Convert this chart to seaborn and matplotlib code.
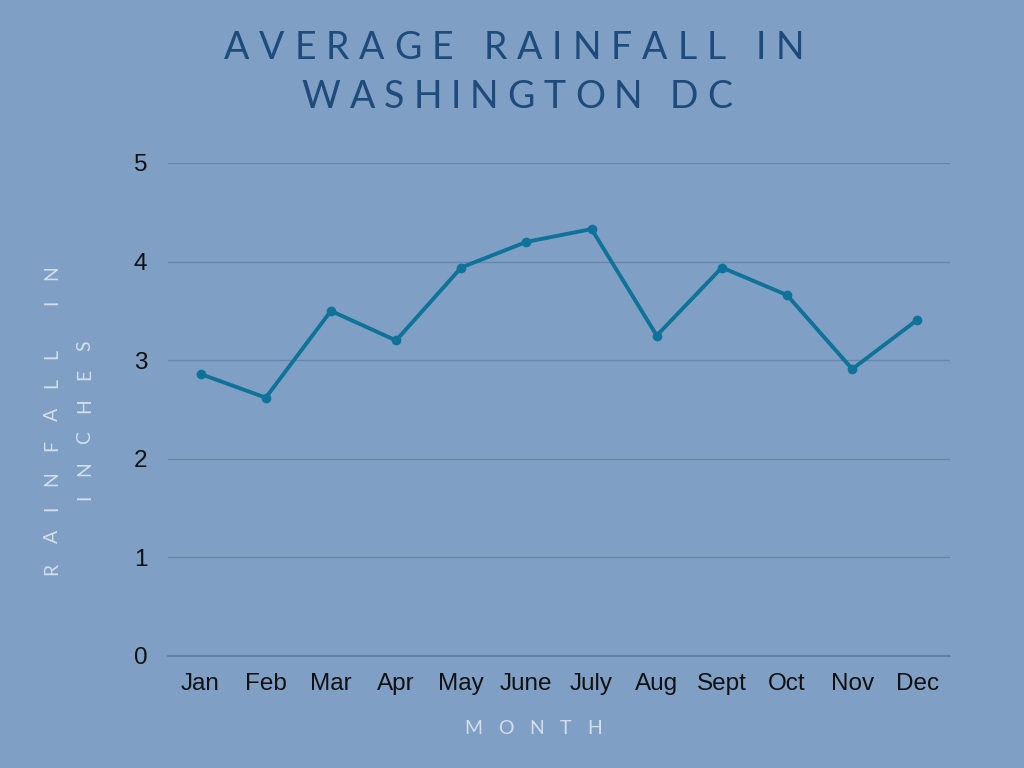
import matplotlib
matplotlib.use("Agg")
import matplotlib.pyplot as plt
import seaborn as sns
import pandas as pd
from matplotlib.transforms import IdentityTransform

months = ["Jan", "Feb", "Mar", "Apr", "May", "June", "July", "Aug", "Sept", "Oct", "Nov", "Dec"]
rainfall = [2.86, 2.62, 3.50, 3.20, 3.94, 4.20, 4.33, 3.25, 3.94, 3.66, 2.91, 3.41]
yticks = [0, 1, 2, 3, 4, 5]
title_lines = ["AVERAGE RAINFALL IN", "WASHINGTON DC"]
ylabel_lines = ["RAINFALL IN", "INCHES"]
xlabel_text = "MONTH"

BG = "#7fa0c4"
LINE = "#0f7299"
GRID = "#6786aa"
TITLE_C = "#1e4b7b"
LABEL_C = "#d3deea"

sns.set_theme(style="white")
plt.rcParams["font.family"] = ["Liberation Sans", "DejaVu Sans"]

df = pd.DataFrame({"month": months, "rain": rainfall})
df["pos"] = range(len(months))

fig = plt.figure(figsize=(10.24, 7.68), dpi=100, facecolor=BG)
ax = fig.add_axes([168 / 1024, 1 - 656 / 768, (950 - 168) / 1024, (656 - 163) / 768])
ax.set_facecolor(BG)

sns.lineplot(data=df, x="pos", y="rain", ax=ax, color=LINE, linewidth=2.8,
             marker="o", markersize=7, markeredgewidth=0, markerfacecolor=LINE)

ax.set_xlim(-0.5, len(months) - 0.5)
ax.set_ylim(0, 5)
ax.set_xticks(range(len(months)))
ax.set_xticklabels(months)
ax.set_yticks(yticks)
ax.set_yticklabels([str(v) for v in yticks])
ax.tick_params(axis="both", length=0, labelsize=17.5, labelcolor="#111111")
ax.tick_params(axis="x", pad=12.5)
ax.tick_params(axis="y", pad=15)
ax.yaxis.grid(True, color=GRID, linewidth=1)
ax.xaxis.grid(False)
for s in ["top", "right", "left"]:
    ax.spines[s].set_visible(False)
ax.spines["bottom"].set_color("#5c7ba0")
ax.spines["bottom"].set_linewidth(1.2)
ax.set_xlabel("")
ax.set_ylabel("")

renderer = fig.canvas.get_renderer()


def char_widths(s, size, family, weight):
    ws = []
    for ch in s:
        if ch == " ":
            t = fig.text(0, 0, "n n", fontsize=size, family=family, weight=weight)
            w1 = t.get_window_extent(renderer).width
            t.remove()
            t = fig.text(0, 0, "nn", fontsize=size, family=family, weight=weight)
            w2 = t.get_window_extent(renderer).width
            t.remove()
            ws.append(w1 - w2)
        else:
            t = fig.text(0, 0, ch, fontsize=size, family=family, weight=weight)
            ws.append(t.get_window_extent(renderer).width)
            t.remove()
    return ws


def tracked(s, cx, cy, size, color, tracking, family, weight="normal", vertical=False):
    ws = char_widths(s, size, family, weight)
    total = sum(ws) + tracking * (len(s) - 1)
    pos = (cy if vertical else cx) - total / 2
    for ch, w in zip(s, ws):
        if ch != " ":
            if vertical:
                fig.text(cx, pos + w / 2, ch, fontsize=size, family=family, weight=weight,
                         color=color, rotation=90, ha="center", va="center",
                         transform=IdentityTransform())
            else:
                fig.text(pos + w / 2, cy, ch, fontsize=size, family=family, weight=weight,
                         color=color, ha="center", va="center",
                         transform=IdentityTransform())
        pos += w + tracking


H = 768
TFONT = ["Lato", "DejaVu Sans"]
tracked(title_lines[0], 514, H - 48, 27, TITLE_C, 10, TFONT, weight="normal")
tracked(title_lines[1], 517, H - 97, 27, TITLE_C, 9, TFONT, weight="normal")
# y label (rotated, reading bottom to top)
tracked(ylabel_lines[0], 52, H - 420, 14, LABEL_C, 19.5, TFONT, weight="normal", vertical=True)
tracked(ylabel_lines[1], 85, H - 420, 14, LABEL_C, 18, TFONT, weight="normal", vertical=True)
tracked(xlabel_text, 533, H - 728, 14, LABEL_C, 16, TFONT, weight="normal")

fig.savefig("out.png", dpi=100, facecolor=BG)
